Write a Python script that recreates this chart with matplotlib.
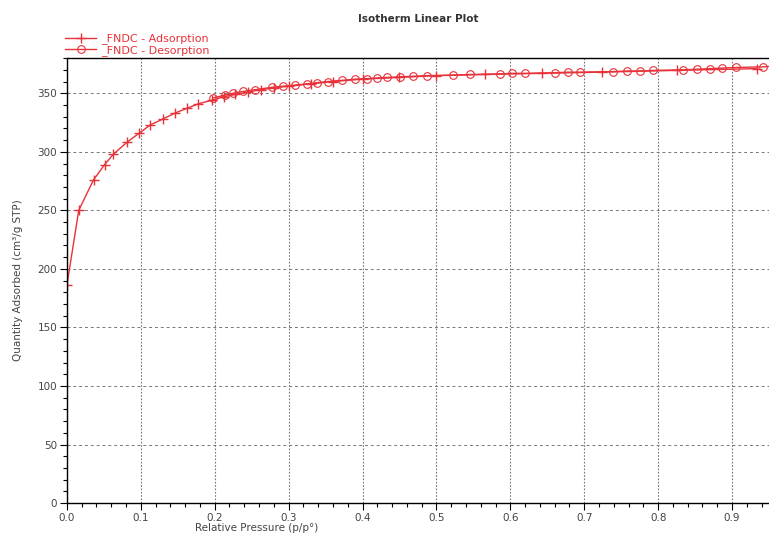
import matplotlib
matplotlib.use('Agg')
import matplotlib.pyplot as plt
from matplotlib.ticker import MultipleLocator, FormatStrFormatter

# nitrogen isotherm, _FNDC sample
ads_p = [0.0, 0.016, 0.036, 0.051, 0.063, 0.081, 0.098, 0.113, 0.13, 0.146,
         0.162, 0.178, 0.196, 0.212, 0.228, 0.245, 0.262, 0.28, 0.30, 0.33,
         0.36, 0.40, 0.45, 0.50, 0.566, 0.643, 0.724, 0.825, 0.934]
ads_q = [186, 250, 276, 289, 298, 308, 316, 323, 328, 333,
         337, 341, 344, 347, 349, 351, 353, 354.5, 356, 358,
         360, 362, 363.5, 365, 366, 367, 368, 369.5, 371]

des_p = [0.955, 0.942, 0.906, 0.887, 0.870, 0.852, 0.833, 0.793, 0.775, 0.758,
         0.739, 0.694, 0.678, 0.660, 0.620, 0.602, 0.586, 0.545, 0.522, 0.487,
         0.468, 0.451, 0.433, 0.419, 0.406, 0.39, 0.372, 0.353, 0.338, 0.325,
         0.309, 0.292, 0.277, 0.254, 0.238, 0.225, 0.214, 0.198]
des_q = [373, 372.5, 372, 371.5, 371, 370.5, 370, 369.5, 369, 369,
         368.5, 368, 368, 367.5, 367, 367, 366.5, 366, 365.5, 365,
         364.5, 364, 363.5, 363, 362.5, 362, 361, 360, 359, 358,
         357, 356, 355, 353, 351.5, 350, 348.5, 346]

series_names = ['_FNDC - Adsorption', '_FNDC - Desorption']

red = '#e8323a'

fig = plt.figure(figsize=(7.69, 5.33), dpi=100)
ax = fig.add_axes([0.087, 0.056, 0.913, 0.835])

h_ads, = ax.plot(ads_p, ads_q, color=red, lw=1.0, marker='+', ms=7, mew=1.0)
h_des, = ax.plot(des_p, des_q, color=red, lw=1.0, marker='o', ms=5.5,
                 mfc='none', mew=0.8)

ax.set_xlim(0, 0.95)
ax.set_ylim(0, 380)
ax.xaxis.set_major_locator(MultipleLocator(0.1))
ax.xaxis.set_minor_locator(MultipleLocator(0.02))
ax.xaxis.set_major_formatter(FormatStrFormatter('%.1f'))
ax.yaxis.set_major_locator(MultipleLocator(50))
ax.yaxis.set_minor_locator(MultipleLocator(10))
ax.tick_params(which='both', direction='out', labelsize=7.5,
               labelcolor='#444444', width=0.8, pad=2)
ax.tick_params(which='major', length=5)
ax.tick_params(which='minor', length=3)
ax.spines['right'].set_visible(False)
for s in ['left', 'bottom', 'top']:
    ax.spines[s].set_linewidth(1.0)

ax.grid(True, which='major', axis='x', color='#777777', ls=(0, (1.5, 1.5)), lw=0.8)
ax.grid(True, which='major', axis='y', color='#777777', ls=(0, (3, 3)), lw=0.7)

ax.set_title('Isotherm Linear Plot', fontsize=7.5, fontweight='bold',
             color='#333333', pad=26, x=0.5)
ax.set_xlabel('Relative Pressure (p/p°)', fontsize=7.5, color='#444444')
ax.xaxis.set_label_coords(0.27, -0.045)
ax.set_ylabel('Quantity Adsorbed (cm³/g STP)', fontsize=7.5, color='#444444')
ax.yaxis.set_label_coords(-0.062, 0.5)

# labels starting with '_' are skipped by legend(), so set the text afterwards
leg = ax.legend([h_ads, h_des], ['a', 'b'], loc='lower left',
                bbox_to_anchor=(-0.012, 0.99), frameon=False,
                fontsize=8, handlelength=2.8, handletextpad=0.4,
                labelspacing=0.05, borderpad=0.1)
for t, name in zip(leg.get_texts(), series_names):
    t.set_text(name)
    t.set_color(red)

fig.savefig('out.png', dpi=100)
